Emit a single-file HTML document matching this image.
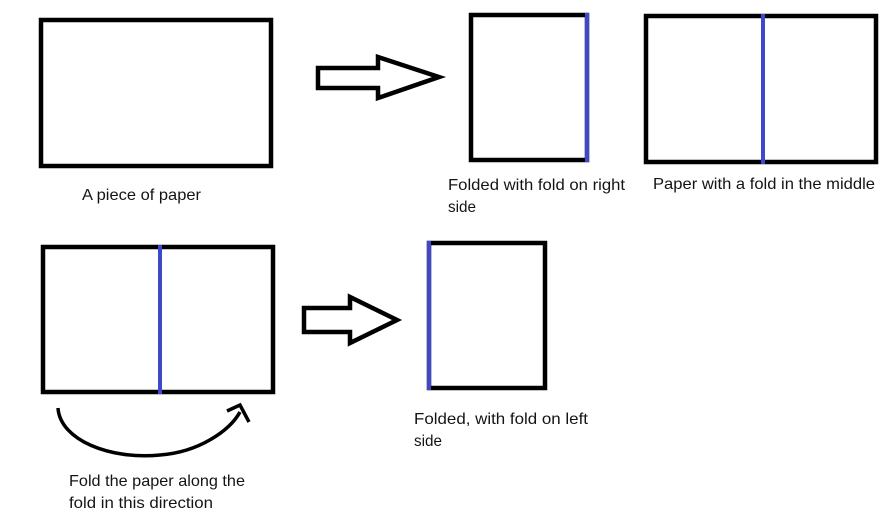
<!DOCTYPE html>
<html><head><style>body{margin:0;background:#fff}svg{display:block}</style></head><body>
<svg width="893" height="523" xmlns="http://www.w3.org/2000/svg">
<g fill="none" stroke="#000" stroke-width="4.5">
<rect x="41" y="20" width="230" height="146"/>
<rect x="471" y="15" width="116" height="145"/>
<rect x="646" y="16" width="230" height="146"/>
<rect x="43" y="247" width="230" height="145"/>
<rect x="429" y="243" width="116" height="145"/>
<path d="M318 68 H378 V57 L439 77 L378 98 V88 H318 Z" stroke-linejoin="miter"/>
<path d="M304 308 H350 V297 L397 320 L350 343 V332 H304 Z"/>
<path d="M58 408 C60 440 110 460 160 455 C200 452 230 430 240 412" stroke-width="3.5"/>
<path d="M227 411 L240 405 L249 422" stroke-width="3.5"/>
</g>
<g stroke="#3f48cc" stroke-width="4">
<line x1="587" y1="13" x2="587" y2="162"/>
<line x1="763" y1="14" x2="763" y2="164"/>
<line x1="160" y1="245" x2="160" y2="394"/>
<line x1="429" y1="241" x2="429" y2="390"/>
</g>
<g font-family="Liberation Sans, sans-serif" font-size="16" fill="#141414">
<text x="82" y="200" textLength="119" lengthAdjust="spacingAndGlyphs">A piece of paper</text>
<text x="448" y="190" textLength="177" lengthAdjust="spacingAndGlyphs">Folded with fold on right</text>
<text x="448" y="212" textLength="28" lengthAdjust="spacingAndGlyphs">side</text>
<text x="653" y="189" textLength="222" lengthAdjust="spacingAndGlyphs">Paper with a fold in the middle</text>
<text x="414" y="424" textLength="174" lengthAdjust="spacingAndGlyphs">Folded, with fold on left</text>
<text x="414" y="446" textLength="28" lengthAdjust="spacingAndGlyphs">side</text>
<text x="69" y="486" textLength="176" lengthAdjust="spacingAndGlyphs">Fold the paper along the</text>
<text x="69" y="508" textLength="144" lengthAdjust="spacingAndGlyphs">fold in this direction</text>
</g>
</svg>
</body></html>
